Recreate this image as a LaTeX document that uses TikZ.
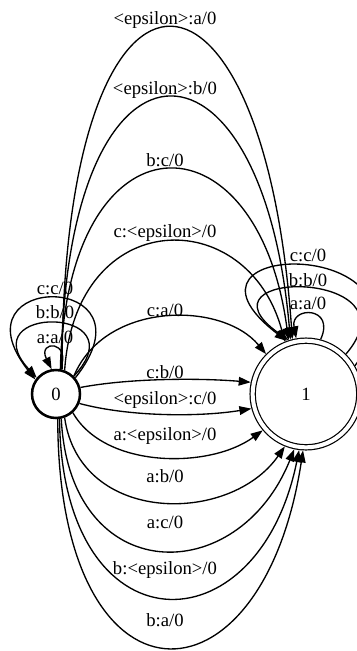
\documentclass[tikz,border=0pt]{standalone}
\usepackage{fontspec}
\setmainfont{Liberation Serif}
\usetikzlibrary{arrows.meta}
\begin{document}
\begin{tikzpicture}[x=0.75pt, y=-0.75pt, line join=round, >={Triangle[length=9pt,width=6.5pt]},
		font=\fontsize{14}{17}\selectfont,
		state/.style={circle, draw, inner sep=0pt},
		trans/.style={->, line width=1pt}]
	%Khung hình
	\useasboundingbox (0,0) rectangle (357,651);
	%Các trạng thái
	\node[state, line width=1.9pt, minimum size=36pt] (q0) at (56,394) {0};
	\node[state, double, double distance=3pt, line width=0.9pt, minimum size=80pt, outer sep=2.4pt] (q1) at (306,394) {1};
	%Các cung từ 0 sang 1
	\foreach \angA/\angB/\xa/\xb/\yc/\ly/\lab [count=\i] in {
			76/104/62/263/-81/20/<epsilon>:a,
			78/106/64/262/12/90/<epsilon>:b,
			80/108/66/258/108/160/b:c,
			70/112/76/248/204/233/c:<epsilon>,
			45/135/105/222/301/310/c:a,
			15/168/130/200/378/372/c:b,
			-22/-165/130/200/417/400/<epsilon>:c,
			-48/-140/105/210/469/436/a:<epsilon>,
			-70/-112/80/230/525/476/a:b,
			-78/-102/70/238/589/522/a:c,
			-82/-97/62/258/652/570/b:<epsilon>,
			-86/-93/58/262/718/620/b:a}{
			\draw[trans] (q0.\angA) .. controls (\xa,\yc) and (\xb,\yc) .. (q1.\angB);
			\node (e\i) at (165,\ly) {\lab/0};
		}
	%Các vòng lặp
	\foreach \q/\angA/\angB/\xa/\xb/\yc/\lx/\ly/\lab [count=\i] in {
			q0/80/100/72/37/340/55/337/a:a,
			q0/45/140/140/-30/305/55/312/b:b,
			q0/40/145/160/-50/271/55/288/c:c,
			q1/75/100/336/290/306/308/303/a:a,
			q1/45/108/420/187/268/308/280/b:b,
			q1/30/110/450/150/236/308/255/c:c}{
			\draw[trans] (\q.\angA) .. controls (\xa,\yc) and (\xb,\yc) .. (\q.\angB);
			\node (m\i) at (\lx,\ly) {\lab/0};
		}
\end{tikzpicture}
\end{document}
